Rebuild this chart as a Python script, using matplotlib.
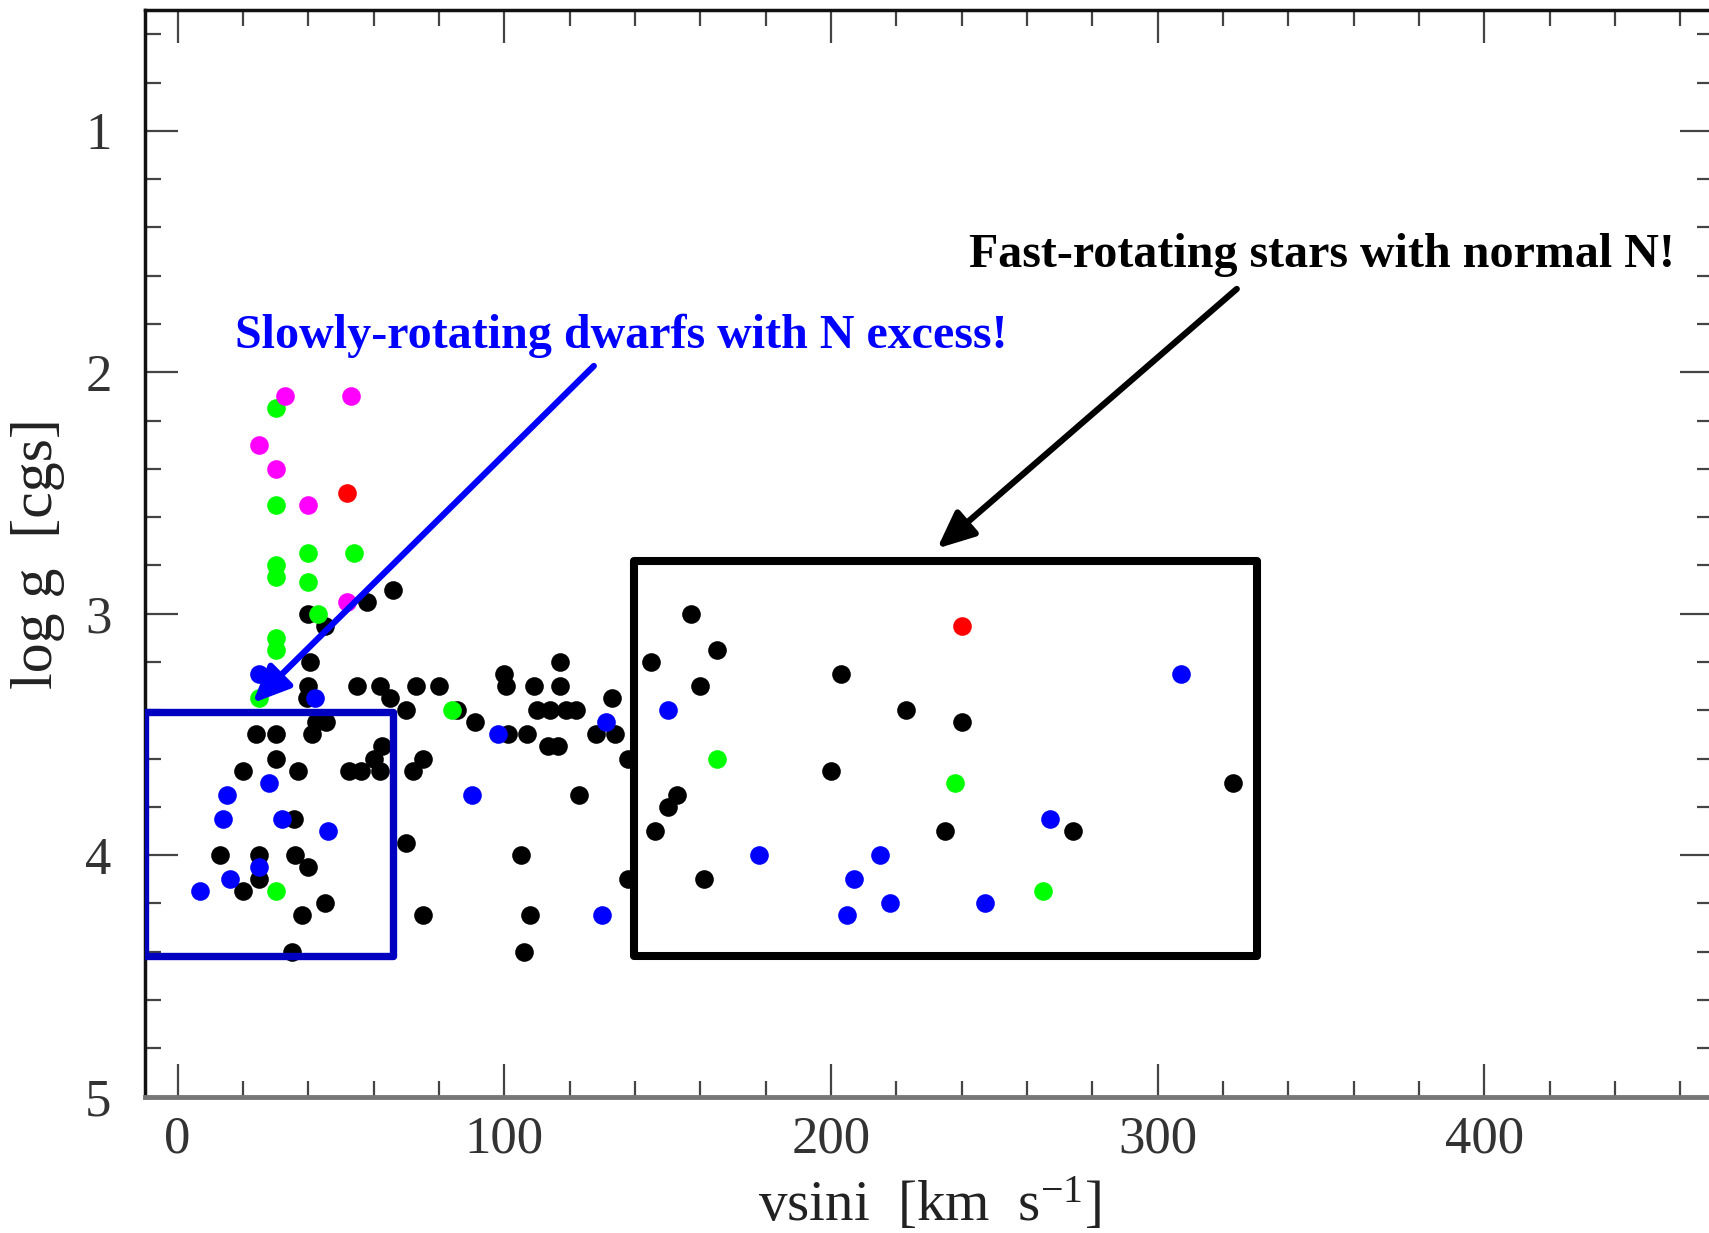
import matplotlib
matplotlib.use("Agg")
import matplotlib.pyplot as plt
from matplotlib.patches import Rectangle
from matplotlib.ticker import MultipleLocator

plt.rcParams['font.family'] = ['Liberation Serif', 'DejaVu Serif']
plt.rcParams['mathtext.fontset'] = 'custom'
plt.rcParams['mathtext.rm'] = 'Liberation Serif'
plt.rcParams['mathtext.it'] = 'Liberation Serif:italic'

# --- data: projected rotational velocity [km/s] and surface gravity (log g) ---
black_vsini = [40, 45, 58, 66,
               40.5, 40, 39.5, 55, 62, 73, 80, 65, 70,
               42.5, 45.5, 41, 24, 30,
               30, 20, 37, 52.5, 56, 62, 60, 62.5, 75, 72,
               35.5, 13, 25, 36, 40, 25, 20, 45, 38, 75, 35, 70,
               85.5, 91, 101, 107,
               100, 100.5, 109, 117, 117,
               110, 114, 119, 122,
               113.5, 116.5,
               133, 128, 134, 138,
               123, 105, 138, 108, 106,
               157, 165, 145, 160, 153, 150, 146, 161,
               203, 223, 240, 200, 235, 323, 274]
black_logg = [3.00, 3.05, 2.95, 2.90,
              3.20, 3.30, 3.35, 3.30, 3.30, 3.30, 3.30, 3.35, 3.40,
              3.45, 3.45, 3.50, 3.50, 3.50,
              3.60, 3.65, 3.65, 3.65, 3.65, 3.65, 3.60, 3.55, 3.60, 3.65,
              3.85, 4.00, 4.00, 4.00, 4.05, 4.10, 4.15, 4.20, 4.25, 4.25, 4.40, 3.95,
              3.40, 3.45, 3.50, 3.50,
              3.25, 3.30, 3.30, 3.20, 3.30,
              3.40, 3.40, 3.40, 3.40,
              3.55, 3.55,
              3.35, 3.50, 3.50, 3.60,
              3.75, 4.00, 4.10, 4.25, 4.40,
              3.00, 3.15, 3.20, 3.30, 3.75, 3.80, 3.90, 4.10,
              3.25, 3.40, 3.45, 3.65, 3.90, 3.70, 3.90]

green_vsini = [30, 30, 40, 54, 30, 30, 40, 43, 30, 30, 25, 30, 84, 165, 238, 265]
green_logg = [2.15, 2.55, 2.75, 2.75, 2.80, 2.85, 2.87, 3.00, 3.10, 3.15, 3.35, 4.15,
              3.40, 3.60, 3.70, 4.15]

blue_vsini = [25, 42, 28, 15, 14, 32, 46, 25, 16, 7,
              90, 98, 131, 130,
              150, 178, 215, 207, 218, 205, 247, 307, 267]
blue_logg = [3.25, 3.35, 3.70, 3.75, 3.85, 3.85, 3.90, 4.05, 4.10, 4.15,
             3.75, 3.50, 3.45, 4.25,
             3.40, 4.00, 4.00, 4.10, 4.20, 4.25, 4.20, 3.25, 3.85]

magenta_vsini = [33, 53, 25, 30, 40, 52]
magenta_logg = [2.10, 2.10, 2.30, 2.40, 2.55, 2.95]

red_vsini = [52, 240]
red_logg = [2.50, 3.05]

# --- figure ---
fig = plt.figure(figsize=(17.09, 12.33), dpi=100)
ax = fig.add_axes([0.0848, 0.1107, 0.9176, 0.8811])

msize = 180
groups = [(black_vsini, black_logg, '#000000'),
          (green_vsini, green_logg, '#00ff00'),
          (blue_vsini, blue_logg, '#0000ff'),
          (magenta_vsini, magenta_logg, '#ff00ff'),
          (red_vsini, red_logg, '#ff0000')]
for i, (xv, yv, col) in enumerate(groups):
    ax.scatter(xv, yv, s=msize, c=col, linewidths=0, zorder=2 + i * 0.1)

ax.set_xlim(-10, 470)
ax.set_ylim(5, 0.5)

# highlighted regions
ax.add_patch(Rectangle((-9.9, 3.406), 75.8, 1.012, fill=False,
                       edgecolor='#0000c0', lw=5.3, joinstyle='round', zorder=4))
ax.add_patch(Rectangle((139.7, 2.78), 190.8, 1.64, fill=False,
                       edgecolor='#000000', lw=5.8, joinstyle='round', zorder=4))

# annotations
ax.annotate('', xy=(23.0, 3.37), xytext=(127.4, 1.974),
            arrowprops=dict(arrowstyle='-|>,head_length=0.9,head_width=0.4',
                            mutation_scale=25, lw=4.5, color='#0000ff',
                            shrinkA=0, shrinkB=0), zorder=5)
ax.annotate('', xy=(232.5, 2.73), xytext=(324.2, 1.655),
            arrowprops=dict(arrowstyle='-|>,head_length=0.9,head_width=0.4',
                            mutation_scale=25, lw=4.5, color='#000000',
                            shrinkA=0, shrinkB=0), zorder=5)

ax.text(17.5, 1.90, 'Slowly-rotating dwarfs with N excess!', color='#0000ff',
        fontsize=34.6, fontweight='bold', ha='left', va='baseline', zorder=6)
ax.text(242.2, 1.562, 'Fast-rotating stars with normal N!', color='#000000',
        fontsize=34.6, fontweight='bold', ha='left', va='baseline', zorder=6)

# axes styling
ax.xaxis.set_major_locator(MultipleLocator(100))
ax.xaxis.set_minor_locator(MultipleLocator(20))
ax.yaxis.set_major_locator(MultipleLocator(1))
ax.yaxis.set_minor_locator(MultipleLocator(0.2))
ax.tick_params(which='both', direction='in', top=True, right=True,
               color='#444444', labelcolor='#333333')
ax.tick_params(which='major', length=24, width=1.6, labelsize=38)
ax.tick_params(which='minor', length=11.5, width=1.6)
ax.tick_params(axis='x', which='major', pad=14)
ax.tick_params(axis='y', which='major', pad=24)

for side in ('left', 'top'):
    ax.spines[side].set_linewidth(2.5)
    ax.spines[side].set_color('#111111')
ax.spines['bottom'].set_linewidth(3.5)
ax.spines['bottom'].set_color('#777777')
ax.spines['right'].set_linewidth(2.5)

ax.set_xlabel(r'vsini  [km  s$^{-1}$]', fontsize=41, color='#222222')
ax.set_ylabel('log g  [cgs]', fontsize=43, color='#222222')
ax.xaxis.set_label_coords(0.5, -0.0735)
ax.yaxis.set_label_coords(-0.051, 0.5)

fig.savefig('out.png', dpi=100)
